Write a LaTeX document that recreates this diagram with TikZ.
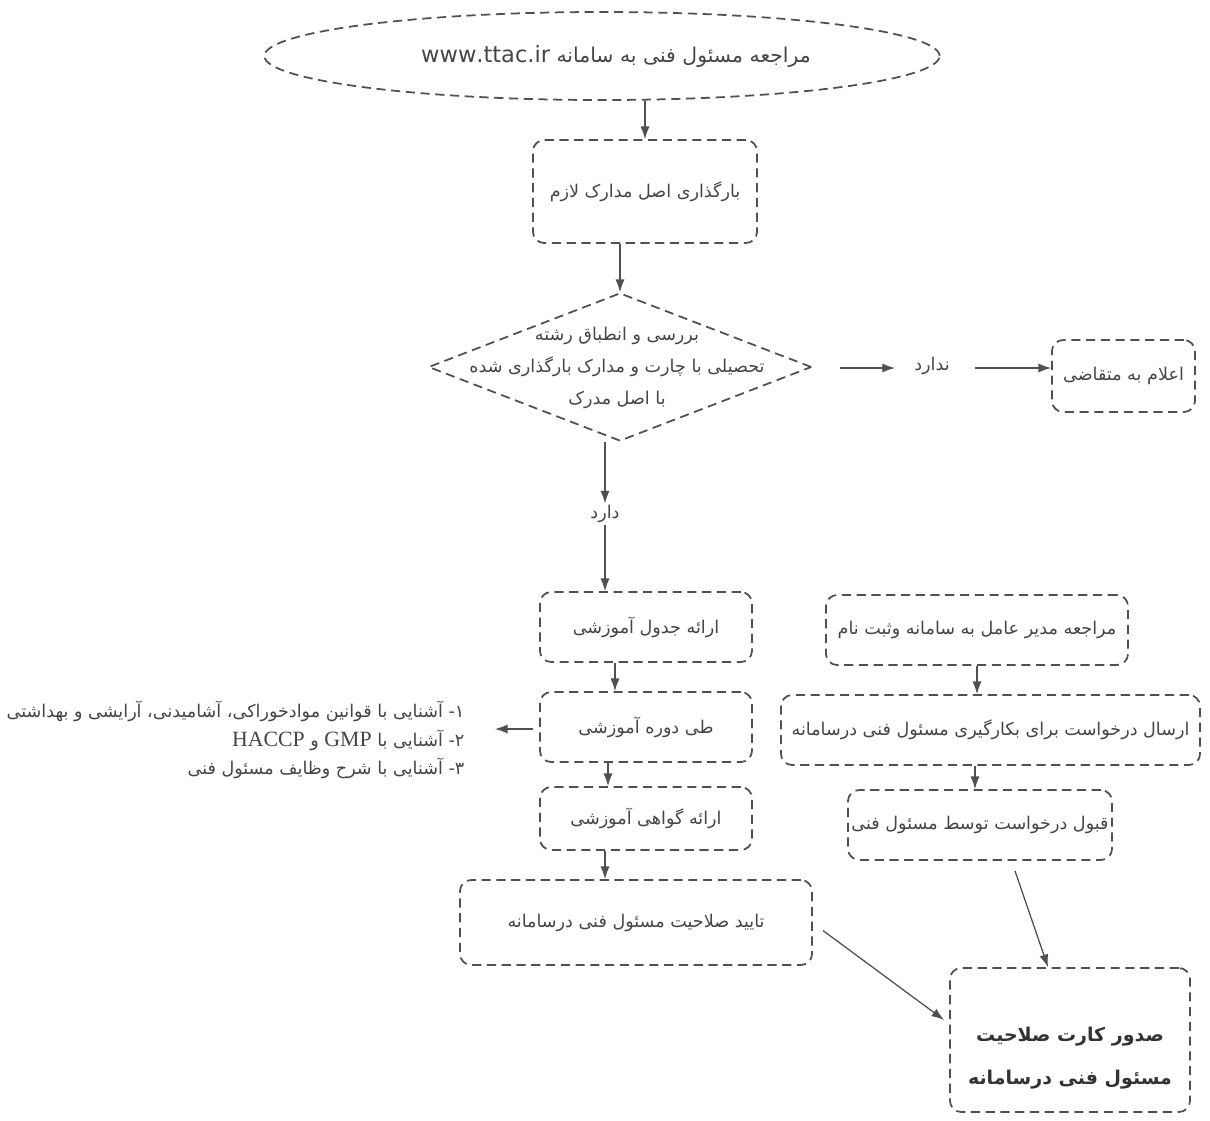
\documentclass[tikz,border=0pt]{standalone}
\usepackage{fontspec}
\usetikzlibrary{shapes.geometric,arrows.meta,calc}
\TeXXeTstate=1
\newfontfamily\arabicfont[Script=Arabic]{DejaVu Sans}
\newfontfamily\latinserif{Liberation Serif}
\newcommand{\FA}[1]{{\arabicfont\beginR #1\endR}}
\definecolor{ln}{HTML}{505050}
\definecolor{tx}{HTML}{454545}
\begin{document}
\begin{tikzpicture}[x=0.025cm,y=-0.025cm,
  font=\fontsize{12.5}{15}\selectfont, text=tx,
  dsh/.style={draw=ln, line width=1.25pt, dash pattern=on 6.5pt off 4pt},
  box/.style={dsh, rounded corners=8pt, inner sep=0pt, align=center},
  arr/.style={draw=ln, line width=0.9pt, -{Latex[length=9pt,width=6.5pt]}},
  lbl/.style={inner sep=1pt, align=center}
]
\useasboundingbox (0,0) rectangle (1210,1120);

% top ellipse
\node[dsh, ellipse, minimum width=16.875cm, minimum height=2.2cm, inner sep=0pt] (ell) at (602,56) {};
\node[lbl, font=\fontsize{14.5}{17}\selectfont] (ellt) at (616,56)
  {\FA{مراجعه مسئول فنی به سامانه \beginL{\arabicfont\fontsize{16}{17}\selectfont www.ttac.ir}\endL}};

\node[box, minimum width=5.6cm, minimum height=2.575cm] (b2) at (645,191.5) {\FA{بارگذاری اصل مدارک لازم}};

% decision diamond
\node[dsh, diamond, minimum width=9.575cm, minimum height=3.7cm, inner sep=0pt] (dia) at (620,367) {};
\node[lbl, font=\fontsize{12.5}{23}\selectfont] (diat) at (617,368)
  {\FA{بررسی و انطباق رشته}\\ \FA{تحصیلی با چارت و مدارک بارگذاری شده}\\ \FA{با اصل مدرک}};

\node[lbl] (nd) at (932,366) {\FA{ندارد}};
\node[box, minimum width=3.575cm, minimum height=1.8cm] (b3) at (1123.5,376) {\FA{اعلام به متقاضی}};
\coordinate (n1) at (840,368);
\coordinate (n1e) at (895,368);
\coordinate (n2) at (975,368);

\node[lbl] (dr) at (605,514) {\FA{دارد}};

% left column
\node[box, minimum width=5.3cm, minimum height=1.75cm] (b4) at (646,627) {\FA{ارائه جدول آموزشی}};
\node[box, minimum width=5.3cm, minimum height=1.75cm] (b5) at (646,727) {\FA{طی دوره آموزشی}};
\node[box, minimum width=5.3cm, minimum height=1.575cm] (b6) at (646,818.5) {\FA{ارائه گواهی آموزشی}};
\node[box, minimum width=8.8cm, minimum height=2.125cm] (b7) at (636,922.5) {\FA{تایید صلاحیت مسئول فنی درسامانه}};

\node[lbl, anchor=east, align=right, font=\fontsize{12.5}{20}\selectfont] (lst) at (466,740)
  {\FA{۱- آشنایی با قوانین موادخوراکی، آشامیدنی، آرایشی و بهداشتی}\\
   \FA{۲- آشنایی با \beginL{\latinserif\fontsize{15.5}{20}\selectfont GMP}\endL{} و \beginL{\latinserif\fontsize{15.5}{20}\selectfont HACCP}\endL}\\
   \FA{۳- آشنایی با شرح وظایف مسئول فنی}};
\coordinate (la) at (495,729);

% right column
\node[box, minimum width=7.55cm, minimum height=1.75cm] (r1) at (977,630) {\FA{مراجعه مدیر عامل به سامانه وثبت نام}};
\node[box, minimum width=10.475cm, minimum height=1.75cm] (r2) at (990.5,730) {\FA{ارسال درخواست برای بکارگیری مسئول فنی درسامانه}};
\node[box, minimum width=6.6cm, minimum height=1.75cm] (r3) at (980,825) {\FA{قبول درخواست توسط مسئول فنی}};

% final box
\node[box, minimum width=6cm, minimum height=3.6cm] (fin) at (1070,1040) {};
\node[lbl, font=\bfseries\fontsize{13.5}{31}\selectfont, text=black!80] (fint) at (1070,1058)
  {\FA{صدور کارت صلاحیت}\\ \FA{مسئول فنی درسامانه}};

% connectors
\draw[arr] (b2.north |- ell.south) -- (b2.north);
\draw[arr] (dia.north |- b2.south) -- (dia.north);
\draw[arr] (n1) -- (n1e);
\draw[arr] (n2) -- (n2 -| b3.west);
\draw[arr] (dr.north |- dia.south) -- (dr.north);
\draw[arr] (dr.south) -- (dr.south |- b4.north);
\draw[arr] ($(b4.south)+(-31,0)$) -- ($(b5.north)+(-31,0)$);
\draw[arr] ($(b5.south)+(-38,0)$) -- ($(b6.north)+(-38,0)$);
\draw[arr] ($(b5.west)+(-6,2)$) -- (la);
\draw[arr] ($(b6.south)+(-41,0)$) -- ($(b7.north)+(-31,0)$);
\draw[arr] (r1.south) -- (r1.south |- r2.north);
\draw[arr] ($(r2.south)+(-15.5,0)$) -- ($(r3.north)+(-5,0)$);
\draw[arr] ($(r3.south)+(35,10)$) -- ($(fin.north)+(-22,0)$);
\draw[arr] ($(b7.east)+(10,8)$) -- ($(fin.west)+(-5,-20)$);
\end{tikzpicture}
\end{document}
